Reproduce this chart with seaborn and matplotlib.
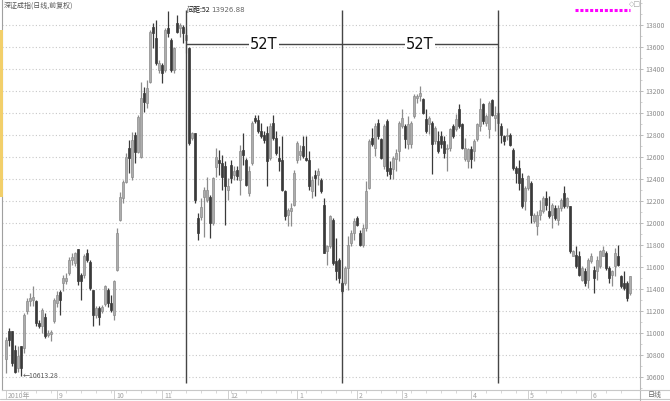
import numpy as np
import pandas as pd
import matplotlib
matplotlib.use('Agg')
import matplotlib.pyplot as plt
import matplotlib.transforms as mtransforms
from matplotlib.lines import Line2D
from matplotlib.patches import Rectangle
import seaborn as sns

# daily candles, index 0 = first bar
opens = [10760, 11015, 11015, 10850, 10680, 10880, 10865, 11200, 11290, 11300,
         11290, 11090, 11060, 11150, 10980, 10990, 11105, 11270, 11370, 11455,
         11470, 11545, 11665, 11635, 11760, 11530, 11530, 11730, 11650, 11395,
         11165, 11225, 11200, 11260, 11395, 11270, 11165, 11575, 12030,
         12224, 12376, 12679, 12421, 12800, 12649, 12603, 13179, 13088, 13285,
         13785, 13679, 13391, 13436, 13391, 13770, 13664, 13391, 13815, 13770,
         13785, 13664, 13588, 12770, 12815, 12043, 12058, 12240, 12209, 12240,
         11997, 12512, 12573, 12543,
         12515, 12303, 12530, 12440, 12485, 12394, 12667, 12576, 12273, 12545,
         12955, 12939, 12833, 12803, 12818, 12591, 12909, 12773, 12591, 12576,
         12288, 12076, 12106, 12167, 12576, 12621, 12697, 12591, 12576, 12288,
         12439, 12439, 12394, 12167, 11742, 11788, 12030, 11652, 11667, 11455,
         11455, 11591, 11818, 11909, 12045, 11909, 11800, 11950,
         12321, 12776, 12685, 12912, 12761, 12518, 12927, 12503, 12488, 12579,
         12655, 12882, 12882, 12715, 12715, 12973, 13139, 13155, 13124, 12942,
         12897, 12912, 12745, 12745, 12791, 12745, 12670, 12685, 12882, 12852,
         13033, 12897, 12579, 12564, 12670, 12655, 12761, 12882, 13079, 12912, 12852,
         13121, 12955, 12909, 12879, 12788, 12794, 12803, 12667, 12500, 12500,
         12409, 12197, 12318, 12364, 12015, 11970, 12076, 12106, 12227, 12106,
         12076, 12136, 12030, 12136, 12273, 12152, 12152, 11697, 11712, 11697,
         11485, 11561, 11485, 11652, 11576, 11561, 11606, 11697, 11727, 11591,
         11530, 11606, 11697, 11515, 11455, 11455, 11364]
highs = [10960, 11045, 11015, 10895, 10880, 10880, 11180, 11320, 11365, 11430,
         11300, 11120, 11225, 11180, 11030, 11030, 11315, 11380, 11390, 11530,
         11545, 11695, 11725, 11740, 11760, 11545, 11715, 11760, 11665, 11395,
         11245, 11245, 11255, 11440, 11410, 11345, 11485, 11955, 12285,
         12391, 12633, 12755, 12830, 12830, 12982, 13285, 13233, 13300, 13755,
         13821, 13845, 13482, 13452, 13770, 13927, 13679, 13603, 13891, 13815,
         13800, 13770, 13603, 12830, 12815, 12088, 12224, 12330, 12421, 12255,
         12421, 12679, 12664, 12618,
         12560, 12409, 12576, 12515, 12515, 12712, 12818, 12591, 12515, 12924,
         12985, 12985, 12909, 12833, 12879, 12909, 12985, 12833, 12697, 12788,
         12303, 12136, 12182, 12485, 12742, 12712, 12788, 12788, 12652, 12424,
         12485, 12500, 12409, 12227, 11803, 12076, 12045, 11864, 11682, 11470,
         11606, 11879, 11939, 12045, 12061, 11939, 11990, 12380,
         12761, 12867, 12912, 12942, 12776, 12897, 12942, 12564, 12609, 12670,
         12927, 13033, 12897, 12973, 12927, 13170, 13170, 13245, 13139, 13033,
         12973, 12927, 12882, 12836, 12836, 12791, 12715, 12867, 12897, 12988,
         13079, 12912, 12776, 12685, 12700, 12761, 12912, 13139, 13094, 12988, 13109,
         13127, 13061, 13015, 12909, 12803, 12864, 12818, 12682, 12515, 12576,
         12455, 12333, 12439, 12379, 12091, 12106, 12212, 12242, 12288, 12242,
         12182, 12167, 12167, 12227, 12333, 12236, 12152, 11758, 11788, 11742,
         11606, 11591, 11682, 11727, 11606, 11697, 11758, 11788, 11742, 11606,
         11576, 11773, 11803, 11530, 11561, 11470, 11515]
lows = [10640, 10880, 10700, 10635, 10650, 10613, 10820, 11170, 11250, 11250,
        11060, 11045, 11000, 10955, 10965, 10925, 11090, 11240, 11165, 11380,
        11450, 11530, 11620, 11605, 11440, 11300, 11500, 11650, 11395, 11060,
        11135, 11070, 11185, 11245, 11240, 11195, 11120, 11560, 12015,
        12179, 12361, 12452, 12391, 12543, 12633, 12588, 13012, 13042, 13270,
        13588, 13436, 13361, 13270, 13376, 13694, 13376, 13361, 13724, 13694,
        13633, 13542, 12709, 12755, 12179, 11846, 12027, 11876, 12194, 11861,
        11982, 12421, 12436, 12300,
        11985, 12212, 12364, 12394, 12394, 12258, 12530, 12333, 12242, 12530,
        12909, 12818, 12773, 12727, 12333, 12576, 12758, 12621, 12470, 12288,
        12030, 11970, 11970, 12152, 12545, 12576, 12591, 12561, 12303, 12227,
        12242, 12348, 12273, 11727, 11621, 11773, 11621, 11485, 11455, 11364,
        11439, 11394, 11788, 11848, 11970, 11788, 11780, 11930,
        12306, 12700, 12609, 12761, 12579, 12488, 12427, 12397, 12397, 12473,
        12564, 12867, 12685, 12670, 12685, 12958, 13094, 13109, 12988, 12821,
        12806, 12442, 12715, 12639, 12685, 12594, 12473, 12655, 12776, 12836,
        12867, 12670, 12564, 12503, 12503, 12564, 12745, 12836, 12897, 12882, 12776,
        12970, 12833, 12803, 12727, 12712, 12758, 12697, 12485, 12364, 12303,
        12136, 12121, 12303, 12000, 12000, 11894, 12030, 12091, 12121, 12045,
        11955, 12030, 11985, 12106, 12136, 12136, 11727, 11697, 11591, 11515,
        11470, 11424, 11409, 11636, 11364, 11485, 11591, 11697, 11576, 11455,
        11424, 11515, 11606, 11409, 11394, 11288, 11349]
closes = [10940, 10940, 10730, 10650, 10790, 10680, 11165, 11290, 11320, 11330,
          11090, 11060, 11210, 10970, 11000, 11010, 11300, 11350, 11300, 11500,
          11500, 11665, 11690, 11725, 11470, 11470, 11700, 11665, 11410, 11165,
          11225, 11150, 11240, 11425, 11270, 11210, 11470, 11910, 12240,
          12376, 12603, 12588, 12755, 12649, 12967, 13133, 13103, 13224, 13739,
          13724, 13452, 13452, 13361, 13755, 13724, 13391, 13588, 13739, 13800,
          13724, 13709, 12724, 12815, 12209, 11906, 12149, 12300, 12300, 11997,
          12406, 12603, 12543, 12421,
          12333, 12333, 12409, 12470, 12424, 12652, 12621, 12349, 12470, 12909,
          12924, 12833, 12788, 12758, 12561, 12879, 12773, 12636, 12561, 12303,
          12061, 12121, 12136, 12455, 12727, 12652, 12606, 12576, 12333, 12394,
          12409, 12470, 12288, 11727, 11788, 12061, 11636, 11561, 11500, 11379,
          11591, 11803, 11909, 12015, 11985, 11803, 11950, 12290,
          12745, 12715, 12882, 12791, 12594, 12882, 12473, 12442, 12594, 12639,
          12912, 12958, 12761, 12897, 12912, 13155, 13155, 13185, 13003, 12836,
          12958, 12715, 12867, 12655, 12715, 12639, 12685, 12852, 12791, 12942,
          12882, 12685, 12685, 12670, 12579, 12745, 12897, 13033, 12927, 12973, 13094,
          12985, 12985, 13000, 12803, 12742, 12803, 12712, 12500, 12455, 12364,
          12152, 12318, 12424, 12076, 12076, 12076, 12121, 12227, 12167, 12061,
          12167, 12045, 12136, 12212, 12152, 12227, 11742, 11742, 11606, 11530,
          11591, 11455, 11667, 11697, 11500, 11667, 11742, 11758, 11591, 11500,
          11561, 11727, 11621, 11424, 11409, 11318, 11515]

# month boundaries on the date strip
month_labels = ['2010年', '9', '10', '11', '12', '1', '2', '3', '4', '5', '6']
month_start = [0, 17, 36, 52, 74, 97, 117, 132, 155, 174, 195]

price_ticks = list(range(10600, 14000, 200))

# the drawn bar-count tool: three dividers 52 bars apart
split_bars = [60, 112, 164]
split_text = '52T'
split_level = 13627
split_top, split_bottom = 13936, 10546
interval_text = '间距:52'
high_text = '13926.88'
low_text = '←10613.28'
title = '深证成指(日线,前复权)'

df = pd.DataFrame({'open': opens, 'high': highs, 'low': lows, 'close': closes})
df['up'] = df['close'] >= df['open']
x = np.arange(len(df))

sns.set_theme(style='white')
plt.rcParams['font.family'] = ['Noto Sans CJK SC', 'DejaVu Sans']
plt.rcParams['axes.unicode_minus'] = False

W, H = 670, 401
fig = plt.figure(figsize=(W / 100, H / 100), dpi=100)
ax = fig.add_axes([2 / W, 11 / H, 638 / W, 390 / H])

# candles: light = up, dark = down
up_c, dn_c = '#adadad', '#3a3a3a'
body_c = np.where(df['up'], up_c, dn_c)
edge_c = np.where(df['up'], '#8c8c8c', dn_c)
ax.vlines(x, df['low'], df['high'], colors=edge_c, linewidth=0.9, zorder=2)
body_lo = df[['open', 'close']].min(axis=1)
body_h = (df['close'] - df['open']).abs().clip(lower=9)
ax.bar(x, body_h, bottom=body_lo, width=0.7, color=body_c,
       edgecolor=edge_c, linewidth=0.5, zorder=3)

# axes limits: 3 px per bar, first divider at px 186
px_bar = 3
x0 = split_bars[0] - (186 - 2) / px_bar
ax.set_xlim(x0, x0 + 638 / px_bar)
ax.set_ylim(10482, 14027)

# grid + price axis on the right
ax.set_axisbelow(True)
ax.yaxis.grid(True, which='major', color='#c8c8c8', linestyle=(0, (1, 2)), linewidth=0.8)
ax.xaxis.grid(False)
ax.yaxis.tick_right()
ax.set_yticks(price_ticks)
ax.set_yticklabels([str(p) for p in price_ticks])
ax.set_yticks(np.arange(10500, 14001, 100), minor=True)
ax.tick_params(axis='y', which='major', right=True, length=2.2, width=0.6, color='#b0b0b0',
               labelsize=5, labelcolor='#8c8c8c', pad=2, direction='out')
ax.tick_params(axis='y', which='minor', right=True, length=1.3, width=0.5, color='#c0c0c0')

# date strip
ax.set_xticks(month_start)
ax.set_xticklabels(month_labels)
ax.set_xticks(np.arange(0, len(df), 5), minor=True)
ax.tick_params(axis='x', which='major', bottom=True, length=6.5, width=0.6, color='#c8c8c8',
               labelsize=5, labelcolor='#a0a0a0', pad=-5, direction='out')
ax.tick_params(axis='x', which='minor', bottom=True, length=2, width=0.5, color='#c8c8c8')
shift = mtransforms.ScaledTranslation(0.02, 0, fig.dpi_scale_trans)
for lab in ax.get_xticklabels():
    lab.set_horizontalalignment('left')
    lab.set_transform(lab.get_transform() + shift)

ax.spines['top'].set_visible(False)
ax.spines['left'].set_color('#a0a0a0')
ax.spines['right'].set_color('#b8b8b8')
ax.spines['bottom'].set_color('#c8c8c8')
for s in ['left', 'right', 'bottom']:
    ax.spines[s].set_linewidth(0.8)

# bar-count dividers
ax.vlines(split_bars, split_bottom, split_top, colors='#454545', linewidth=1, zorder=4)
for a, b in zip(split_bars[:-1], split_bars[1:]):
    ax.hlines(split_level, a, b, colors='#454545', linewidth=1, zorder=4)
    ax.text((a + b) / 2, split_level, split_text, ha='center', va='center', fontsize=10.5,
            color='#111111', family='DejaVu Sans', zorder=5,
            bbox=dict(facecolor='white', edgecolor='none', pad=1))
# interval label, then the high value right after it
lab_int = ax.text(split_bars[0] + 0.2, split_top, interval_text, ha='left', va='center',
                  fontsize=5, color='#111111', zorder=6)
ax.annotate(high_text, xy=(1, 0.5), xycoords=lab_int, xytext=(1, 0),
            textcoords='offset points', ha='left', va='center', fontsize=5,
            color='#666666', family='DejaVu Sans', zorder=5)

# lowest point label
i_min = int(df['low'].idxmin())
ax.text(i_min + 0.6, df['low'].min(), low_text, ha='left', va='center', fontsize=5,
        color='#555555', zorder=5)

# title and decorations
ax.text(0.002, 1 - 6 / 390, title, transform=ax.transAxes, fontsize=5, color='#555555',
        va='center', ha='left')
ax.plot([573 / 638, 628 / 638], [1 - 10 / 390] * 2, transform=ax.transAxes,
        color='#ff00ff', linewidth=2.2, linestyle=(0, (1, 0.6)), clip_on=False)
fig.text(629 / W, 1 - 4 / H, '◇□', fontsize=5, color='#a0a0a0', va='center', family='DejaVu Sans')
fig.add_artist(Rectangle((0, 1 - 197 / H), 2.5 / W, 167 / H, color='#f2cf6a', lw=0))
fig.add_artist(Line2D([0, 1], [2 / H, 2 / H], color='#c8c8c8', linewidth=0.8))
fig.add_artist(Line2D([640 / W, 640 / W], [0, 11 / H], color='#b8b8b8', linewidth=0.8))
fig.add_artist(Line2D([640 / W, 1], [11 / H, 11 / H], color='#c8c8c8', linewidth=0.8))
fig.text(655 / W, 1 - 395 / H, '日线', fontsize=5, color='#666666', ha='center', va='center')

fig.savefig('out.png', dpi=100)
